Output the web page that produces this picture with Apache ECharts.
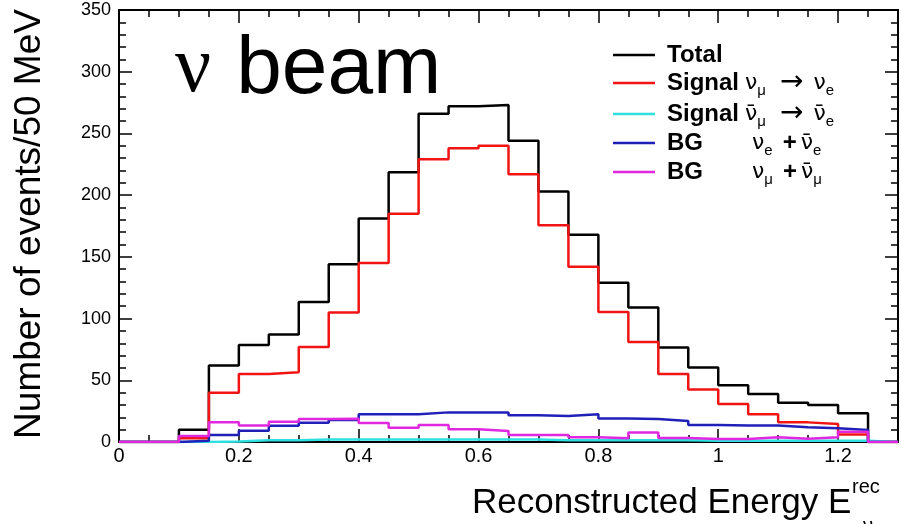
<!DOCTYPE html>
<html>
<head>
<meta charset="utf-8">
<script src="https://cdn.jsdelivr.net/npm/echarts@6.0.0/dist/echarts.min.js"></script>
<style>
  html, body { margin: 0; padding: 0; background: #fff; }
  #chart { width: 901px; height: 524px; }
</style>
</head>
<body>
<div id="chart"></div>
<script>
// left edges of the 50 MeV bins (GeV), last bin ends at binEnd
const binStart = [0, 0.05, 0.1, 0.15, 0.2, 0.25, 0.3, 0.35, 0.4, 0.45, 0.5, 0.55, 0.6,
  0.65, 0.7, 0.75, 0.8, 0.85, 0.9, 0.95, 1.0, 1.05, 1.1, 1.15, 1.2, 1.25];
const binEnd = 1.3;

const totalVals = [0, 0, 10, 62, 78.5, 87, 113.5, 144, 181, 218.5, 266, 272, 273,
  244, 203, 168, 129, 109, 76.6, 60.4, 46, 38.8, 31.8, 30, 23.2, 0];
const sigNuVals = [0, 0, 3, 40, 55, 56.5, 77, 105, 145, 185, 229, 238, 240,
  217, 175.6, 142, 105.4, 81, 55, 42.6, 30.7, 22.4, 15.9, 14.6, 6, 0];
const sigNubarVals = [0, 0, 0, 0.5, 1.5, 1.5, 2, 2, 2, 2, 2, 2, 2,
  2, 1.5, 1.5, 1.5, 1.5, 1.5, 1, 1, 1, 1, 1, 1, 0];
const bgNueVals = [0, 0, 1, 5.7, 9.2, 13.2, 15.6, 17.8, 22.4, 22.4, 24, 24, 24,
  21.6, 21, 22.5, 19, 18.6, 17, 13.8, 13.3, 13.3, 11.9, 11.2, 9.7, 0];
const bgNumuVals = [0, 0, 4.9, 16, 13.3, 16.4, 18.7, 18.9, 15.4, 11.5, 13.8, 10.4, 8.9,
  5.6, 5.6, 3.8, 3, 7.6, 3.2, 2.5, 2.5, 3.9, 2.6, 3.9, 8.3, 0];

const seriesNames = ['Total', 'Signal νμ→νe', 'Signal ν̄μ→ν̄e', 'BG νe+ν̄e', 'BG νμ+ν̄μ'];
const seriesColors = ['#000000', '#f01414', '#30e0e0', '#2020b8', '#e028e0'];

const legendRich = {
  'Total': '{lab|Total}',
  'Signal νμ→νe': '{lab|Signal}{g|ν}{s|μ}{ar|→}{g|ν}{s|e}',
  'Signal ν̄μ→ν̄e': '{lab|Signal}{g|ν̄}{s|μ}{ar|→}{g|ν̄}{s|e}',
  'BG νe+ν̄e': '{bg|BG}{g|ν}{s|e}{pl|+}{g|ν̄}{s|e}',
  'BG νμ+ν̄μ': '{bg|BG}{g|ν}{s|μ}{pl|+}{g|ν̄}{s|μ}'
};

const SANS = 'Liberation Sans, Arial, sans-serif';
const SERIF = 'Liberation Serif, DejaVu Serif, serif';

function histData(vals) {
  let d = binStart.map((x, i) => [x, vals[i]]);
  d.push([binEnd, vals[vals.length - 1]]);
  return d;
}

function histSeries(name, vals, color) {
  return {
    name: name,
    type: 'line',
    step: 'end',
    data: histData(vals),
    showSymbol: false,
    lineStyle: { color: color, width: 2.5 },
    itemStyle: { color: color },
    xAxisIndex: 0,
    yAxisIndex: 0
  };
}

let chart = echarts.init(document.getElementById('chart'), null, { renderer: 'canvas' });

const tickStyle = { color: '#000', width: 1.5 };
const hiddenLabel = { show: false };
const noLine = { show: false, onZero: false };

let option = {
  animation: false,
  backgroundColor: '#fff',
  grid: {
    left: 119, right: 3, top: 10, bottom: 82,
    show: true, borderColor: '#000', borderWidth: 2,
    outerBoundsMode: 'none'
  },
  xAxis: [
    {
      type: 'value', position: 'bottom', min: 0, max: binEnd, interval: 0.2,
      axisLine: { show: true, onZero: false, lineStyle: { color: '#000', width: 2 } },
      axisTick: { inside: true, length: 13, lineStyle: tickStyle },
      axisLabel: { margin: 4, color: '#000', fontFamily: SANS, fontSize: 20, showMaxLabel: false },
      splitLine: { show: false }
    },
    {
      type: 'value', position: 'bottom', min: 0, max: binEnd, interval: 0.05,
      axisLine: noLine,
      axisTick: { inside: true, length: 7, lineStyle: tickStyle },
      axisLabel: hiddenLabel, splitLine: { show: false }
    },
    {
      type: 'value', position: 'top', min: 0, max: binEnd, interval: 0.2,
      axisLine: noLine,
      axisTick: { inside: true, length: 13, lineStyle: tickStyle },
      axisLabel: hiddenLabel, splitLine: { show: false }
    },
    {
      type: 'value', position: 'top', min: 0, max: binEnd, interval: 0.05,
      axisLine: noLine,
      axisTick: { inside: true, length: 7, lineStyle: tickStyle },
      axisLabel: hiddenLabel, splitLine: { show: false }
    }
  ],
  yAxis: [
    {
      type: 'value', position: 'left', min: 0, max: 350, interval: 50,
      axisLine: { show: true, onZero: false, lineStyle: { color: '#000', width: 2 } },
      axisTick: { inside: true, length: 13, lineStyle: tickStyle },
      minorTick: { show: true, splitNumber: 5, length: 7, lineStyle: tickStyle },
      axisLabel: { margin: 8, color: '#000', fontFamily: SANS, fontSize: 18 },
      splitLine: { show: false }
    },
    {
      type: 'value', position: 'right', min: 0, max: 350, interval: 50,
      axisLine: noLine,
      axisTick: { inside: true, length: 13, lineStyle: tickStyle },
      minorTick: { show: true, splitNumber: 5, length: 7, lineStyle: tickStyle },
      axisLabel: hiddenLabel, splitLine: { show: false }
    }
  ],
  legend: {
    data: seriesNames,
    orient: 'vertical',
    left: 613, top: 43,
    itemWidth: 42, itemHeight: 2.5, itemGap: 2,
    icon: 'rect',
    padding: 0,
    formatter: name => legendRich[name],
    textStyle: {
      padding: [0, 0, 0, 7],
      color: '#000',
      rich: {
        lab: { fontFamily: SANS, fontSize: 24, fontWeight: 'bold', width: 78, lineHeight: 30, color: '#000' },
        bg: { fontFamily: SANS, fontSize: 24, fontWeight: 'bold', width: 85, lineHeight: 30, color: '#000' },
        g: { fontFamily: 'DejaVu Sans', fontSize: 22, lineHeight: 30, color: '#000' },
        s: { fontFamily: SANS, fontSize: 15, lineHeight: 5, verticalAlign: 'bottom', color: '#000' },
        ar: { fontFamily: 'DejaVu Sans', fontSize: 28, lineHeight: 30, padding: [0, 10, 0, 14], color: '#000' },
        pl: { fontFamily: SANS, fontSize: 24, fontWeight: 'bold', lineHeight: 30, padding: [0, 4, 0, 10], color: '#000' }
      }
    }
  },
  graphic: [
    {
      type: 'text', x: 175, y: 30,
      style: {
        text: '{g|ν}{t|beam}',
        rich: {
          g: { fontFamily: SERIF, fontSize: 80, lineHeight: 80, fill: '#000' },
          t: { fontFamily: SANS, fontSize: 82, lineHeight: 80, padding: [0, 0, 0, 25], fill: '#000' }
        }
      }
    },
    {
      type: 'text', x: 30, y: 224, rotation: Math.PI / 2,
      style: {
        text: 'Number of events/50 MeV',
        fontFamily: SANS, fontSize: 37, fill: '#000',
        align: 'center', verticalAlign: 'middle'
      }
    },
    {
      type: 'text', x: 472, y: 503,
      style: {
        text: 'Reconstructed Energy E',
        fontFamily: SANS, fontSize: 35, fill: '#000',
        align: 'left', verticalAlign: 'middle'
      }
    },
    {
      type: 'text', x: 852, y: 487,
      style: { text: 'rec', fontFamily: SANS, fontSize: 20, fill: '#000', align: 'left', verticalAlign: 'middle' }
    },
    {
      type: 'text', x: 863, y: 526,
      style: { text: 'ν', fontFamily: SANS, fontSize: 20, fill: '#000', align: 'left', verticalAlign: 'middle' }
    }
  ],
  series: [
    histSeries(seriesNames[0], totalVals, seriesColors[0]),
    histSeries(seriesNames[1], sigNuVals, seriesColors[1]),
    histSeries(seriesNames[2], sigNubarVals, seriesColors[2]),
    histSeries(seriesNames[3], bgNueVals, seriesColors[3]),
    histSeries(seriesNames[4], bgNumuVals, seriesColors[4])
  ]
};

option && chart.setOption(option);
</script>
</body>
</html>
